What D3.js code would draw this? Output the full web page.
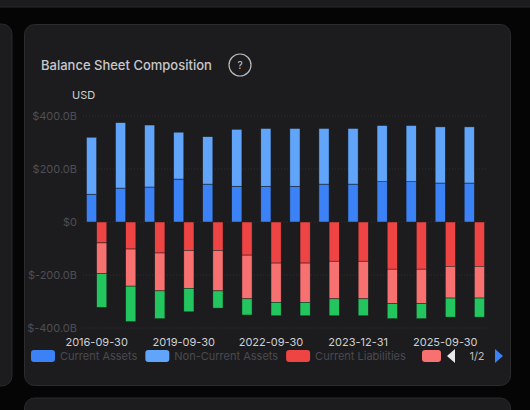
<!DOCTYPE html>
<html><head><meta charset="utf-8">
<script src="https://cdn.jsdelivr.net/npm/d3@7"></script>
<style>
body{margin:0;background:#050506;width:530px;height:410px;overflow:hidden;font-family:Inter,"Noto Sans",sans-serif;}
</style></head><body>
<svg id="c" width="530" height="410"></svg>
<script>
const categories=["2016-09-30","2017-09-30","2018-09-30","2019-09-30","2020-09-30","2021-09-30","2022-09-30","2022-12-31","2023-09-30","2023-12-31","2024-09-30","2024-12-31","2025-09-30","2025-12-31"];
const tickLabels=["2016-09-30","2019-09-30","2022-09-30","2023-12-31","2025-09-30"];
const currentAssets=[105,128,132,162,143,135,135,135,143,143,152,152,147,147];
const nonCurrentAssets=[215,247,234,177,179,215,218,218,210,210,212,212,212,212];
const currentLiabilities=[79,102,117,107,107,125,155,155,148,148,178,178,167,167];
const nonCurrentLiabilities=[115,140,143,143,153,165,148,148,142,142,130,130,120,120];
const equity=[128,134,105,89,65,61,51,51,64,64,57,57,72,72];
const yTicks=[400,200,0,-200,-400];

const svg=d3.select("#c");
// background cards
svg.append("rect").attr("x",-20).attr("y",-20).attr("width",560).attr("height",27).attr("rx",10).attr("fill","#1c1c1e").attr("stroke","#2a2a2c");
svg.append("rect").attr("x",-20).attr("y",24).attr("width",32).attr("height",362).attr("rx",10).attr("fill","#1c1c1e").attr("stroke","#2a2a2c");
svg.append("rect").attr("x",24.5).attr("y",398).attr("width",486).attr("height",40).attr("rx",10).attr("fill","#1c1c1e").attr("stroke","#2a2a2c");
svg.append("rect").attr("x",24.5).attr("y",24.5).attr("width",486).attr("height",361).attr("rx",10).attr("fill","#1c1c1e").attr("stroke","#2c2c2e");
svg.append("text").attr("x",41).attr("y",70).attr("fill","#c8c8cc").attr("font-size",13).attr("font-weight",500).text("Balance Sheet Composition");
svg.append("circle").attr("cx",240).attr("cy",65).attr("r",11).attr("fill","none").attr("stroke","#bbb").attr("stroke-width",1.2);
svg.append("text").attr("x",240).attr("y",69).attr("text-anchor","middle").attr("fill","#ccc").attr("font-size",10).text("?");
svg.append("text").attr("x",72).attr("y",99).attr("fill","#d0d0d4").attr("font-size",11).text("USD");

const x=d3.scaleBand().domain(categories).range([83,488]).paddingInner(0.3).paddingOuter(0.12);
const y=d3.scaleLinear().domain([-400,400]).range([328,116]);
const g=svg.append("g");
yTicks.forEach(t=>{
  g.append("line").attr("x1",83).attr("x2",488).attr("y1",y(t)).attr("y2",y(t)).attr("stroke","#2e2e32").attr("stroke-dasharray","1,2");
  g.append("text").attr("x",77).attr("y",y(t)+4).attr("text-anchor","end").attr("fill","#4e4e54").attr("font-size",11)
   .text(t===0?"$0":"$"+t.toFixed(1)+"B");
});
const bw=x.bandwidth()/2;
categories.forEach((c,i)=>{
  const x0=x(c);
  const aStack=[[0,currentAssets[i],"#3b82f6"],[currentAssets[i],currentAssets[i]+nonCurrentAssets[i],"#60a5fa"]];
  const l1=-currentLiabilities[i], l2=l1-nonCurrentLiabilities[i], l3=l2-equity[i];
  const lStack=[[0,l1,"#ef4444"],[l1,l2,"#f87171"],[l2,l3,"#22c55e"]];
  aStack.forEach(s=>g.append("rect").attr("x",x0).attr("width",bw).attr("y",y(s[1])).attr("height",y(s[0])-y(s[1])).attr("fill",s[2]).attr("stroke","#1c1c1e").attr("stroke-width",0.5));
  lStack.forEach(s=>g.append("rect").attr("x",x0+bw).attr("width",bw).attr("y",y(s[0])).attr("height",y(s[1])-y(s[0])).attr("fill",s[2]).attr("stroke","#1c1c1e").attr("stroke-width",0.5));
  if(tickLabels.includes(c)) g.append("text").attr("x",x0+bw).attr("y",346).attr("text-anchor","middle").attr("fill","#cfcfd3").attr("font-size",11).text(c);
});
// legend
const leg=[["Current Assets","#3b82f6"],["Non-Current Assets","#60a5fa"],["Current Liabilities","#ef4444"]];
let lx=31;
leg.forEach(l=>{
  svg.append("rect").attr("x",lx).attr("y",350).attr("width",24).attr("height",12).attr("rx",3).attr("fill",l[1]);
  const t=svg.append("text").attr("x",lx+29).attr("y",360).attr("fill","#4a4a50").attr("font-size",11).text(l[0]);
  lx+=29+t.node().getComputedTextLength()+8;
});
svg.append("rect").attr("x",422).attr("y",350).attr("width",19).attr("height",12).attr("rx",3).attr("fill","#f87171");
svg.append("path").attr("d","M455,349 L447,356 L455,363Z").attr("fill","#e8e8ea");
svg.append("text").attr("x",477).attr("y",360).attr("text-anchor","middle").attr("fill","#bbb").attr("font-size",11).text("1/2");
svg.append("path").attr("d","M495,349 L503,356 L495,363Z").attr("fill","#3b82f6");
</script></body></html>
